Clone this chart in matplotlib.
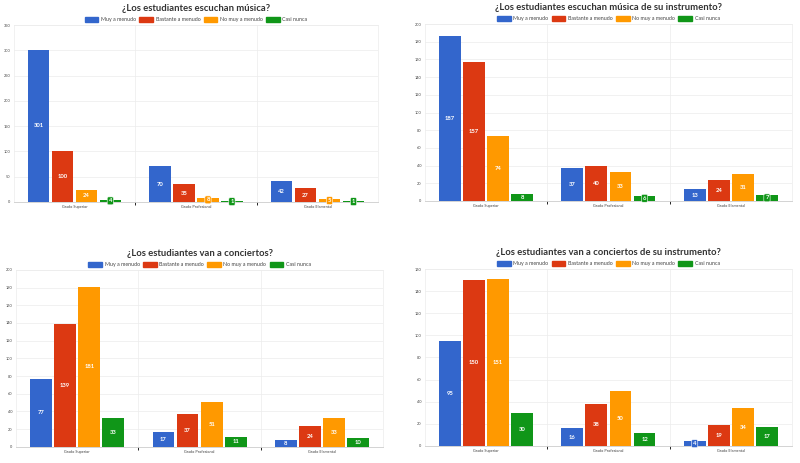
import numpy as np
import matplotlib
matplotlib.use("Agg")
import matplotlib.pyplot as plt

plt.rcParams['font.family'] = ['Lato', 'DejaVu Sans']

categories = ["Grado Superior", "Grado Profesional", "Grado Elemental"]
series_names = ["Muy a menudo", "Bastante a menudo", "No muy a menudo", "Casi nunca"]
colors = ["#3366cc", "#dc3912", "#ff9900", "#109618"]

# values per chart: one list per series (Superior, Profesional, Elemental)
escuchan = [[301, 70, 42], [100, 35, 27], [24, 8, 5], [4, 1, 1]]
escuchan_instr = [[187, 37, 13], [157, 40, 24], [74, 33, 31], [8, 6, 7]]
conciertos = [[77, 17, 8], [139, 37, 24], [181, 51, 33], [33, 11, 10]]
conciertos_instr = [[95, 16, 4], [150, 38, 19], [151, 50, 34], [30, 12, 17]]

titles = ["¿Los estudiantes escuchan música?",
          "¿Los estudiantes escuchan música de su instrumento?",
          "¿Los estudiantes van a conciertos?",
          "¿Los estudiantes van a conciertos de su instrumento?"]
ymaxes = [350, 200, 200, 160]
ysteps = [50, 20, 20, 20]

# axes rectangles in figure fraction
rects = [[0.017, 0.564, 0.456, 0.382],
         [0.531, 0.566, 0.459, 0.382],
         [0.020, 0.035, 0.459, 0.382],
         [0.531, 0.037, 0.459, 0.382]]

fig = plt.figure(figsize=(8, 4.63), dpi=100)

def draw(rect, data, title, ymax, ystep):
    ax = fig.add_axes(rect)
    x = np.arange(len(categories))
    w = 0.178
    step = 0.197
    h_px = rect[3] * 463
    for i, vals in enumerate(data):
        pos = x + (i - 1.5) * step
        ax.bar(pos, vals, width=w, color=colors[i], zorder=3)
        for p, v in zip(pos, vals):
            box = None
            if v / ymax * h_px < 6.5:
                box = dict(boxstyle='round,pad=0.25', fc=colors[i], ec='white', lw=0.4)
            ax.text(p, v / 2, str(v), ha='center', va='center', fontsize=4.2,
                    color='white', fontweight='bold', zorder=4, bbox=box)
    ax.set_xlim(-0.5, 2.5)
    ax.set_ylim(0, ymax)
    ax.set_yticks(np.arange(0, ymax + 1, ystep))
    ax.set_xticks(x)
    ax.set_xticklabels(categories)
    ax.tick_params(axis='both', length=0, labelsize=2.8, colors='#444444', pad=2.5)
    ax.set_xticks([0.5, 1.5], minor=True)
    ax.grid(True, which='major', axis='y', color='#ececec', lw=0.5, zorder=0)
    ax.grid(True, which='minor', axis='x', color='#ececec', lw=0.5, zorder=0)
    for s in ['top', 'right', 'left']:
        ax.spines[s].set_color('#ececec')
        ax.spines[s].set_linewidth(0.5)
    ax.spines['bottom'].set_color('#cccccc')
    ax.spines['bottom'].set_linewidth(0.6)
    handles = [plt.Rectangle((0, 0), 1, 1, color=c) for c in colors]
    ax.legend(handles, series_names, loc='lower center', bbox_to_anchor=(0.5, 1.0),
              ncol=4, frameon=False, fontsize=3.8, handlelength=2.6, handleheight=1.1,
              handletextpad=0.5, columnspacing=0.6, borderaxespad=0.1,
              labelcolor='#444444')
    ax.set_title(title, fontsize=6.8, fontweight='bold', color='#333333', pad=10)

for rect, data, title, ymax, ystep in zip(rects, [escuchan, escuchan_instr, conciertos, conciertos_instr],
                                          titles, ymaxes, ysteps):
    draw(rect, data, title, ymax, ystep)

fig.savefig("out.png", dpi=100, facecolor='white')
